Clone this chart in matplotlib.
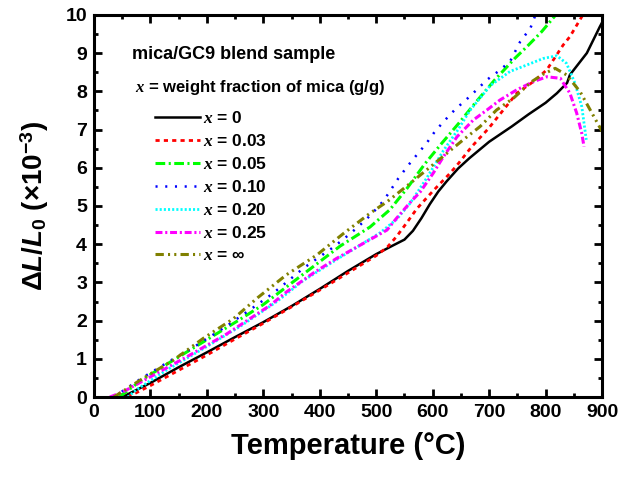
import matplotlib
matplotlib.use("Agg")
import matplotlib.pyplot as plt

plt.rcParams['font.family'] = ['Liberation Sans', 'DejaVu Sans']
plt.rcParams['font.weight'] = 'bold'
plt.rcParams['mathtext.fontset'] = 'custom'
plt.rcParams['mathtext.rm'] = 'Liberation Sans:bold'
plt.rcParams['mathtext.bf'] = 'Liberation Sans:bold'
plt.rcParams['mathtext.it'] = 'Liberation Serif:italic'
plt.rcParams['mathtext.bfit'] = 'Liberation Sans:bold:italic'
plt.rcParams['lines.scale_dashes'] = False

# ---- data ----
T0 = [50, 100, 150, 200, 250, 300, 350, 400, 450, 500, 530, 550, 565, 580, 595, 610, 625, 645, 665, 700, 740, 770, 800, 820, 838, 843, 873, 896, 900]
y0 = [0, 0.37, 0.78, 1.17, 1.57, 1.96, 2.38, 2.83, 3.30, 3.74, 3.97, 4.12, 4.35, 4.68, 5.05, 5.38, 5.65, 5.98, 6.25, 6.68, 7.08, 7.40, 7.70, 7.95, 8.22, 8.43, 9.00, 9.69, 9.80]

T003 = [60, 100, 150, 200, 250, 300, 350, 400, 450, 500, 520, 536, 555, 572, 601, 631, 646, 669, 699, 725, 749, 778, 802, 831, 843, 866]
y003 = [0, 0.30, 0.70, 1.10, 1.52, 1.93, 2.36, 2.80, 3.25, 3.70, 3.93, 4.20, 4.58, 4.93, 5.40, 5.86, 6.12, 6.55, 7.03, 7.51, 7.95, 8.25, 8.56, 9.21, 9.43, 10.0]

T005 = [45, 82, 129, 170, 211, 253, 300, 347, 389, 436, 489, 524, 554, 586, 616, 646, 675, 710, 746, 767, 793, 818]
y005 = [0, 0.42, 0.86, 1.23, 1.60, 1.98, 2.42, 2.95, 3.42, 3.95, 4.45, 4.90, 5.45, 6.10, 6.64, 7.16, 7.69, 8.30, 8.87, 9.17, 9.56, 10.0]

T010 = [35, 84, 135, 176, 229, 276, 315, 335, 353, 371, 392, 421, 442, 462, 483, 500, 513, 524, 539, 557, 572, 589, 604, 622, 640, 660, 678, 696, 716, 737, 755, 773, 782]
y010 = [0, 0.49, 0.95, 1.30, 1.80, 2.28, 2.69, 2.93, 3.15, 3.37, 3.59, 3.89, 4.13, 4.38, 4.66, 4.92, 5.14, 5.38, 5.72, 6.07, 6.34, 6.64, 6.95, 7.25, 7.53, 7.79, 8.04, 8.30, 8.52, 8.78, 9.30, 9.65, 10.0]

T020 = [60, 76, 129, 194, 259, 324, 371, 430, 472, 507, 536, 560, 589, 619, 645, 666, 702, 737, 767, 796, 820, 837, 852, 864, 870, 872]
y020 = [0, 0.20, 0.71, 1.27, 1.85, 2.50, 3.05, 3.60, 3.98, 4.30, 4.65, 5.07, 5.72, 6.45, 7.00, 7.50, 8.15, 8.52, 8.69, 8.86, 8.93, 8.73, 8.21, 7.60, 6.95, 6.73]

T025 = [28, 52, 111, 170, 235, 312, 341, 389, 430, 477, 519, 536, 560, 578, 601, 619, 643, 672, 696, 719, 749, 778, 802, 826, 843, 855, 864, 868]
y025 = [0, 0.14, 0.62, 1.10, 1.65, 2.40, 2.75, 3.25, 3.63, 4.02, 4.37, 4.68, 5.09, 5.37, 5.86, 6.29, 6.81, 7.25, 7.51, 7.77, 8.04, 8.25, 8.38, 8.34, 7.95, 7.43, 6.90, 6.55]

Tinf = [35, 87, 141, 194, 247, 290, 341, 395, 442, 489, 520, 554, 589, 631, 654, 684, 713, 743, 775, 796, 817, 837, 861, 882, 900]
yinf = [0, 0.49, 0.97, 1.54, 2.05, 2.60, 3.20, 3.72, 4.28, 4.81, 5.12, 5.52, 5.94, 6.45, 6.73, 7.08, 7.51, 7.82, 8.25, 8.45, 8.60, 8.43, 7.99, 7.43, 6.95]

labels = ['0', '0.03', '0.05', '0.10', '0.20', '0.25', r'$\infty$']
xticks = [0, 100, 200, 300, 400, 500, 600, 700, 800, 900]
yticks = [0, 1, 2, 3, 4, 5, 6, 7, 8, 9, 10]

series = [(T0, y0), (T003, y003), (T005, y005), (T010, y010), (T020, y020), (T025, y025), (Tinf, yinf)]
styles = [
    dict(color='black', lw=1.8, linestyle='-'),
    dict(color='#FF0000', lw=2.0, linestyle=(0, (3, 3))),
    dict(color='#00FF00', lw=2.2, linestyle=(0, (7, 2.5, 1.5, 2.5))),
    dict(color='#0000FF', lw=1.8, linestyle=(0, (1.5, 5.5))),
    dict(color='#00FFFF', lw=2.0, linestyle=(0, (1.5, 1.5))),
    dict(color='#FF00FF', lw=2.2, linestyle=(0, (5, 2, 1.5, 2))),
    dict(color='#808000', lw=2.2, linestyle=(0, (6, 3, 1.5, 3, 1.5, 3))),
]

fig = plt.figure(figsize=(6.22, 4.79), dpi=100)
ax = fig.add_axes([0.151, 0.171, 0.817, 0.798])

for (T, y), st, lab in zip(series, styles, labels):
    ax.plot(T, y, label=r'$x$ = ' + lab, **st)

ax.set_xlim(0, 900)
ax.set_ylim(0, 10)
ax.set_xticks(xticks)
ax.set_yticks(yticks)
ax.set_xticks([50 + 100 * i for i in range(9)], minor=True)
ax.set_yticks([0.5 + i for i in range(10)], minor=True)
ax.tick_params(which='both', direction='in', top=True, right=True, width=2)
ax.tick_params(which='major', length=6, labelsize=14, pad=5)
ax.tick_params(which='minor', length=3)
for s in ax.spines.values():
    s.set_linewidth(2.2)
for lbl in ax.get_xticklabels() + ax.get_yticklabels():
    lbl.set_fontweight('bold')

ax.set_xlabel('Temperature (°C)', fontsize=21, fontweight='bold', labelpad=8)
ax.set_ylabel(r'$\Delta\mathbfit{L}/\mathbfit{L}_0$ (×10$^{-3}$)', fontsize=20, fontweight='bold', labelpad=10)

ax.text(0.075, 0.895, 'mica/GC9 blend sample', transform=ax.transAxes, fontsize=13, fontweight='bold', va='center')
ax.text(0.081, 0.809, r'$x$ = weight fraction of mica (g/g)', transform=ax.transAxes, fontsize=12, fontweight='bold', va='center')

leg = ax.legend(loc='upper left', bbox_to_anchor=(0.107, 0.769), frameon=False,
                prop=dict(size=12.5, weight='bold'), handlelength=2.6, handletextpad=0.17,
                labelspacing=0.40, borderaxespad=0)

fig.savefig('out.png', dpi=100)
